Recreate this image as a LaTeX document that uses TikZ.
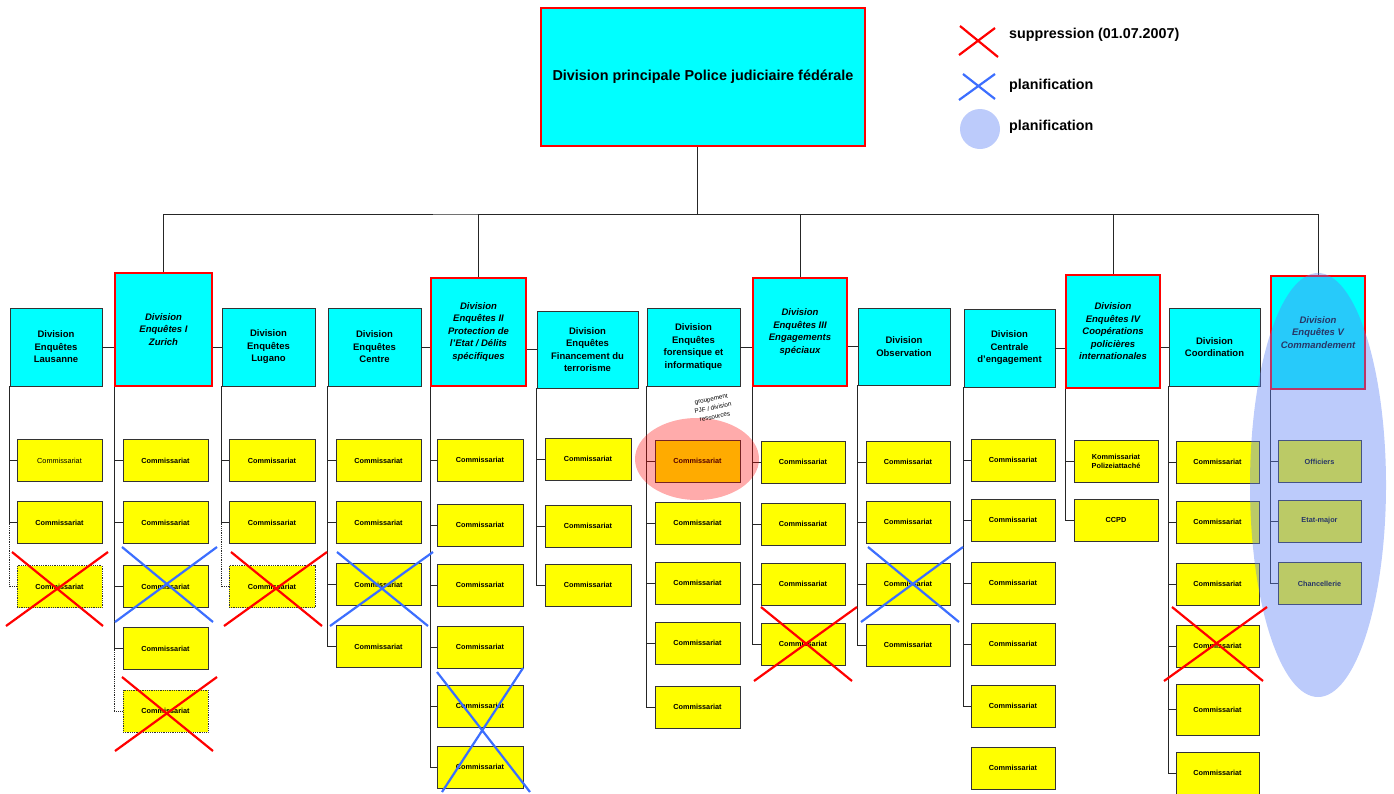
\documentclass[tikz,border=0pt]{standalone}
\usepackage{fontspec}
\setmainfont{Liberation Sans}
\definecolor{aqua}{RGB}{0,255,255}
\definecolor{pureyellow}{RGB}{255,255,0}
\definecolor{purered}{RGB}{255,0,0}
\definecolor{planblue}{RGB}{95,130,245}
\definecolor{xblue}{RGB}{60,110,255}
\begin{document}
\begin{tikzpicture}[x=1pt,y=-1pt,
  hdr/.style={draw=black!80, line width=0.8pt, fill=aqua, align=center, inner sep=1pt,
    font=\fontsize{9.5}{12.5}\selectfont\bfseries},
  rhdr/.style={hdr, draw=purered, line width=2.2pt, font=\fontsize{9.5}{12.5}\selectfont\bfseries\itshape},
  cbox/.style={draw=black!80, line width=0.8pt, fill=pureyellow, align=center, inner sep=0pt,
    minimum width=85, minimum height=42, font=\fontsize{7.3}{9}\selectfont\bfseries},
  gone/.style={cbox, densely dotted},
  link/.style={draw=black!85, line width=0.8pt},
  redx/.style={draw=purered, line width=2.2pt},
  bluex/.style={draw=xblue, line width=2.2pt},
  legtext/.style={anchor=west, inner sep=0pt, font=\fontsize{14.3}{16}\selectfont\bfseries}
]
\useasboundingbox (0,0) rectangle (1394,793);

% top box
\node[hdr, draw=purered, line width=2.2pt, minimum width=324, minimum height=138,
  font=\fontsize{14.4}{17}\selectfont\bfseries] (top) at (703,77) {Division principale Police judiciaire fédérale};
\coordinate (bus) at (697,214);

% headers
\node[hdr, minimum width=92, minimum height=78] (h1) at (56,347) {Division\\Enquêtes\\Lausanne};
\node[rhdr, minimum width=97, minimum height=113] (h2) at (163.5,329.5) {Division\\Enquêtes I\\Zurich};
\node[hdr, minimum width=93, minimum height=78] (h3) at (268.5,347) {Division\\Enquêtes\\Lugano};
\node[hdr, minimum width=93, minimum height=78] (h4) at (374.5,347) {Division\\Enquêtes\\Centre};
\node[rhdr, minimum width=95, minimum height=108] (h5) at (478.5,332) {Division\\Enquêtes II\\Protection de\\l’Etat / Délits\\spécifiques};
\node[hdr, minimum width=101, minimum height=77] (h6) at (587.5,349.5) {Division\\Enquêtes\\Financement du\\terrorisme};
\node[hdr, minimum width=93, minimum height=78] (h7) at (693.5,347) {Division\\Enquêtes\\forensique et\\informatique};
\node[rhdr, minimum width=94, minimum height=108] (h8) at (800,332) {Division\\Enquêtes III\\Engagements\\spéciaux};
\node[hdr, minimum width=92, minimum height=77] (h9) at (904,346.5) {Division\\Observation};
\node[hdr, minimum width=91, minimum height=78] (h10) at (1009.5,348) {Division\\Centrale\\d’engagement};
\node[rhdr, minimum width=94, minimum height=113] (h11) at (1113,331.5) {Division\\Enquêtes IV\\Coopérations\\policières\\internationales};
\node[hdr, minimum width=91, minimum height=78] (h12) at (1214.5,347) {Division\\Coordination};
\node[rhdr, minimum width=94, minimum height=113] (h13) at (1318,332.5) {Division\\Enquêtes V\\Commandement};

% top connectors
\draw[link] (top.south -| bus) -- (bus);
\draw[link] (h2.north) |- (bus) -| (h13.north);
\draw[link] (h5.north) |- (bus);
\draw[link] (h8.north) |- (bus);
\draw[link] (h11.north) |- (bus);

% header side links
\draw[link] (h1.east) -- (h1.east -| h2.west);
\draw[link] (h3.west) -- (h3.west -| h2.east);
\draw[link] (h4.east) -- (h4.east -| h5.west);
\draw[link] (h6.west) -- (h6.west -| h5.east);
\draw[link] (h7.east) -- (h7.east -| h8.west);
\draw[link] (h9.west) -- (h9.west -| h8.east);
\draw[link] (h10.east) -- (h10.east -| h11.west);
\draw[link] (h12.west) -- (h12.west -| h11.east);

% column 1
\node[cbox, font=\fontsize{7.3}{9}\selectfont] (c1a) at (59.5,460.5) {Commissariat};
\node[cbox] (c1b) at (59.5,522.5) {Commissariat};
\node[gone] (c1c) at (59.5,586.5) {Commissariat};
\draw[link] (h1.south west) |- (c1a.west) (h1.south west) |- (c1b.west);
\draw[link, densely dotted] (h1.south west |- c1b.west) |- (c1c.west);

% column 2
\node[cbox] (c2a) at (165.5,460.5) {Commissariat};
\node[cbox] (c2b) at (165.5,522.5) {Commissariat};
\node[cbox] (c2c) at (165.5,586.5) {Commissariat};
\node[cbox] (c2d) at (165.5,648.5) {Commissariat};
\node[gone] (c2e) at (165.5,711) {Commissariat};
\foreach \c in {c2a,c2b,c2c,c2d} \draw[link] (h2.south west) |- (\c.west);
\draw[link, densely dotted] (h2.south west |- c2d.west) |- (c2e.west);

% column 3
\node[cbox, minimum width=86] (c3a) at (272,460.5) {Commissariat};
\node[cbox, minimum width=86] (c3b) at (272,522.5) {Commissariat};
\node[gone, minimum width=86] (c3c) at (272,586.5) {Commissariat};
\draw[link] (h3.south west) |- (c3a.west) (h3.south west) |- (c3b.west);
\draw[link, densely dotted] (h3.south west |- c3b.west) |- (c3c.west);

% column 4
\node[cbox] (c4a) at (378.5,460.5) {Commissariat};
\node[cbox] (c4b) at (378.5,522.5) {Commissariat};
\node[cbox] (c4c) at (378.5,584.5) {Commissariat};
\node[cbox] (c4d) at (378.5,646.5) {Commissariat};
\foreach \c in {c4a,c4b,c4c,c4d} \draw[link] (h4.south west) |- (\c.west);

% column 5
\foreach \n/\y in {a/460,b/525,c/585,d/647,e/706,f/767}
  \node[cbox, minimum width=86] (c5\n) at (480,\y) {Commissariat};
\foreach \c in {c5a,c5b,c5c,c5d,c5e,c5f} \draw[link] (h5.south west) |- (\c.west);

% column 6
\foreach \n/\y in {a/459,b/526,c/585}
  \node[cbox, minimum width=86] (c6\n) at (588,\y) {Commissariat};
\foreach \c in {c6a,c6b,c6c} \draw[link] (h6.south west) |- (\c.west);

% column 7
\foreach \n/\y in {a/461,b/523,c/583,d/643,e/707}
  \node[cbox] (c7\n) at (697.5,\y) {Commissariat};
\foreach \c in {c7a,c7b,c7c,c7d,c7e} \draw[link] (h7.south west) |- (\c.west);

% column 8
\foreach \n/\y in {a/462,b/524,c/584,d/644}
  \node[cbox, minimum width=84] (c8\n) at (803,\y) {Commissariat};
\foreach \c in {c8a,c8b,c8c,c8d} \draw[link] (h8.south west) |- (\c.west);

% column 9
\foreach \n/\y in {a/462,b/522,c/584,d/645}
  \node[cbox, minimum width=84] (c9\n) at (908,\y) {Commissariat};
\foreach \c in {c9a,c9b,c9c,c9d} \draw[link] (h9.south west) |- (\c.west);

% column 10
\foreach \n/\y in {a/460,b/520,c/583,d/644,e/706,f/768}
  \node[cbox, minimum width=84] (c10\n) at (1013,\y) {Commissariat};
\foreach \c in {c10a,c10b,c10c,c10d,c10e} \draw[link] (h10.south west) |- (\c.west);

% column 11
\node[cbox, minimum width=84] (c11a) at (1116,461) {Kommissariat\\Polizeiattaché};
\node[cbox, minimum width=84] (c11b) at (1116,520) {CCPD};
\foreach \c in {c11a,c11b} \draw[link] (h11.south west) |- (\c.west);

% column 12
\foreach \n/\y in {a/462,b/522,c/584,d/646}
  \node[cbox, minimum width=83] (c12\n) at (1217.5,\y) {Commissariat};
\node[cbox, minimum width=83, minimum height=51] (c12e) at (1217.5,709.5) {Commissariat};
\node[cbox, minimum width=83] (c12f) at (1217.5,773) {Commissariat};
\foreach \c in {c12a,c12b,c12c,c12d,c12e,c12f} \draw[link] (h12.south west) |- (\c.west);

% column 13
\node[cbox, minimum width=83] (c13a) at (1319.5,461.5) {Officiers};
\node[cbox, minimum width=83] (c13b) at (1319.5,521) {Etat-major};
\node[cbox, minimum width=83] (c13c) at (1319.5,583.5) {Chancellerie};
\foreach \c in {c13a,c13b,c13c} \draw[link] (h13.south west) |- (\c.west);

% red hatched ellipse
\fill[purered, fill opacity=0.33] (697,459) ellipse [x radius=62, y radius=41];
\node[rotate=12, align=center, inner sep=0pt, font=\fontsize{6.3}{9}\selectfont] (grp) at (713,408) {groupement\\PJF / division\\ressources};

% blue ellipse
\fill[planblue, fill opacity=0.42] (1318,485) ellipse [x radius=68, y radius=212];

% crosses
\draw[redx] (12,552) -- (103,626) (108,552) -- (6,626);
\draw[bluex] (122,547) -- (213,622) (217,547) -- (115,622);
\draw[redx] (122,677) -- (213,751) (217,677) -- (115,751);
\draw[redx] (231,552) -- (322,626) (327,552) -- (224,626);
\draw[bluex] (337,552) -- (428,626) (433,552) -- (330,626);
\draw[bluex] (437,672) -- (530,792) (523,668) -- (442,792);
\draw[redx] (761,607) -- (852,681) (857,607) -- (754,681);
\draw[bluex] (868,547) -- (959,622) (963,547) -- (861,622);
\draw[redx] (1172,607) -- (1263,681) (1267,607) -- (1164,681);

% legend
\draw[redx] (960,26) -- (998,57) (995,28) -- (959,55);
\node[legtext] (l1) at (1009,35) {suppression (01.07.2007)};
\draw[bluex] (963,74) -- (995,99) (995,74) -- (959,100);
\node[legtext] (l2) at (1009,86) {planification};
\fill[planblue, fill opacity=0.42] (980,129) circle [radius=20];
\node[legtext] (l3) at (1009,127) {planification};
\end{tikzpicture}
\end{document}
